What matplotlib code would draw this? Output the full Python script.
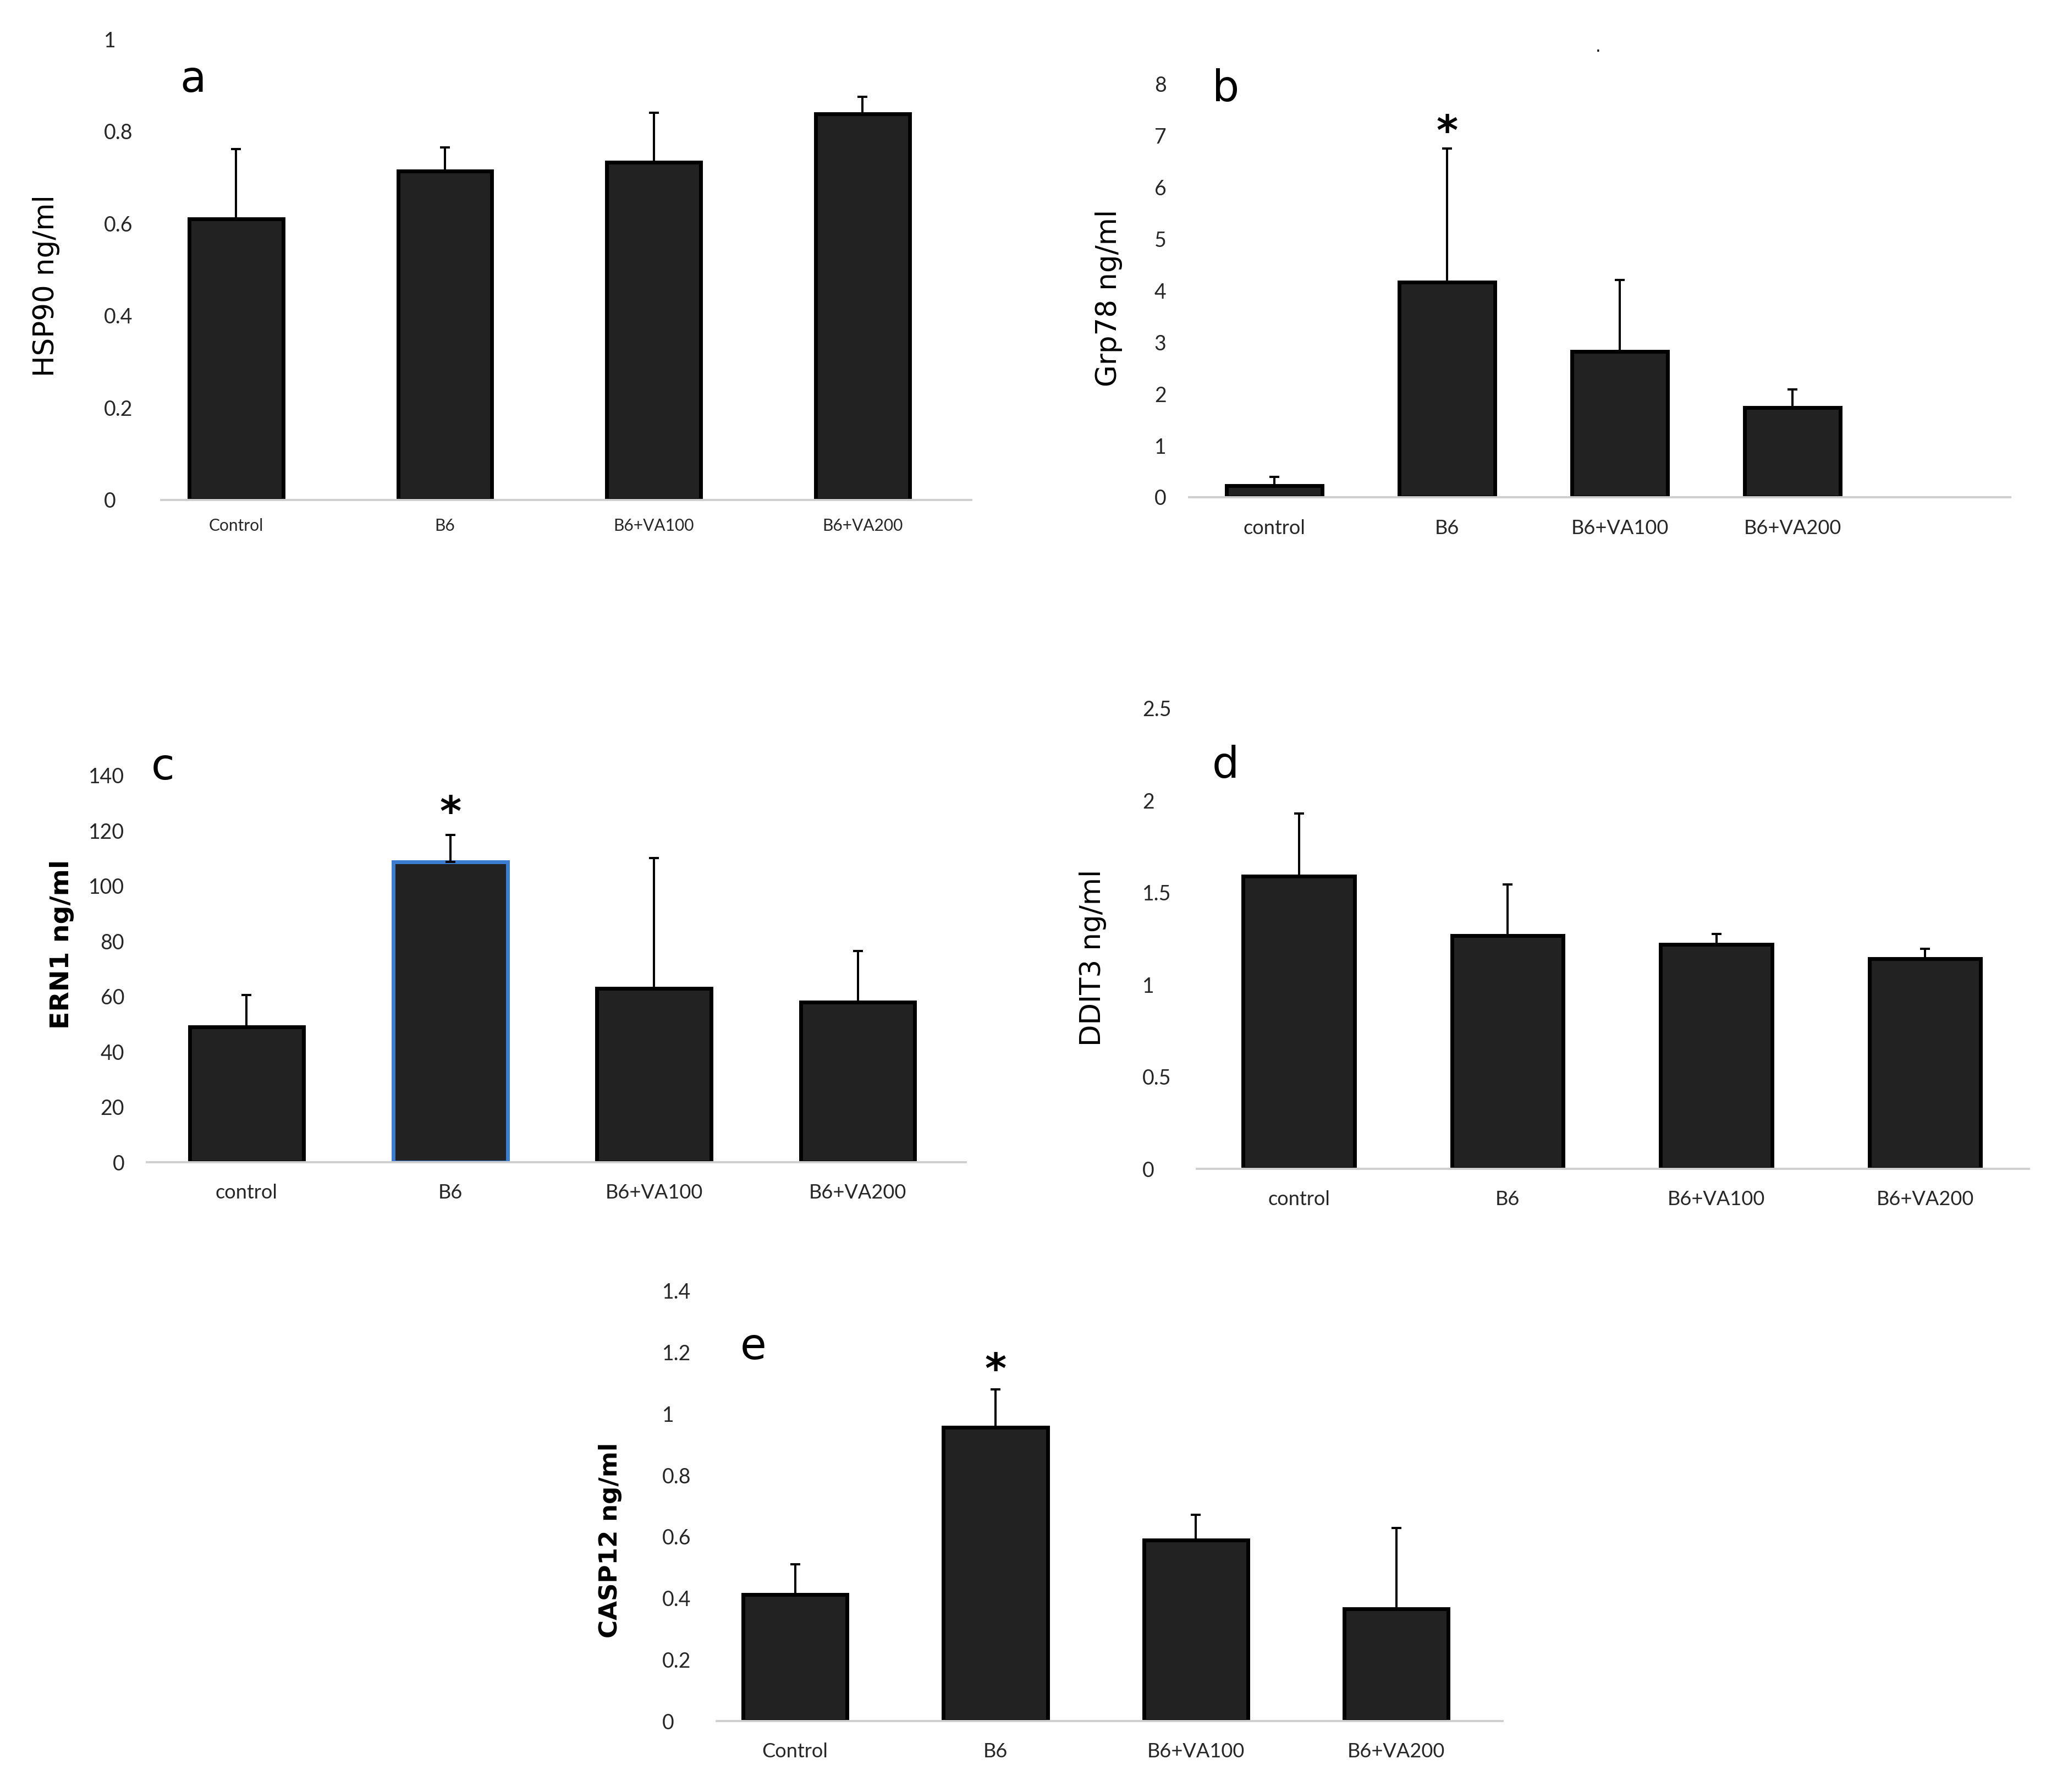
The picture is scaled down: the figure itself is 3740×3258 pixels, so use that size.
import matplotlib
matplotlib.use("Agg")
import matplotlib.pyplot as plt
from matplotlib.ticker import FixedLocator, FuncFormatter

# ---------------- data ----------------
groups_cap = ["Control", "B6", "B6+VA100", "B6+VA200"]
groups_low = ["control", "B6", "B6+VA100", "B6+VA200"]

hsp90_mean = [0.61, 0.714, 0.733, 0.838]
hsp90_err = [0.152, 0.051, 0.107, 0.037]

grp78_mean = [0.22, 4.16, 2.82, 1.73]
grp78_err = [0.17, 2.59, 1.39, 0.36]

ern1_mean = [49.0, 108.6, 62.9, 58.0]
ern1_err = [11.5, 9.9, 47.1, 18.5]

ddit3_mean = [1.59, 1.265, 1.22, 1.14]
ddit3_err = [0.34, 0.28, 0.055, 0.055]

casp12_mean = [0.412, 0.956, 0.589, 0.366]
casp12_err = [0.098, 0.124, 0.082, 0.262]

hsp90_ticks = [0, 0.2, 0.4, 0.6, 0.8, 1]
grp78_ticks = [0, 1, 2, 3, 4, 5, 6, 7, 8]
ern1_ticks = [0, 20, 40, 60, 80, 100, 120, 140]
ddit3_ticks = [0, 0.5, 1, 1.5, 2, 2.5]
casp12_ticks = [0, 0.2, 0.4, 0.6, 0.8, 1, 1.2, 1.4]

# ---------------- layout helpers (reference-display pixel space 1568x1366) ----------------
W, H = 1568.0, 1366.0


def box(x0, x1, ytop, ybot):
    return [x0 / W, 1 - ybot / H, (x1 - x0) / W, (ybot - ytop) / H]


def fx(x):
    return x / W


def fy(y):
    return 1 - y / H


fig = plt.figure(figsize=(37.41, 32.58), dpi=100)
fig.patch.set_facecolor("white")

BAR_FILL = "#222222"
TICK_COLOR = "#262626"


def draw_panel(rect, xlim, ticks, cats, means, errs, width, ylabel, ylab_xy,
               letter, letter_xy, ytick_ha, ytick_pad, xfs, xpad,
               star=None, bold_label=False, ylab_fs=37, edgecolors=None):
    ax = fig.add_axes(rect)
    x = list(range(len(cats)))
    ec = edgecolors if edgecolors is not None else ["black"] * len(cats)
    ax.bar(x, means, width=width, color=BAR_FILL, edgecolor=ec, linewidth=5,
           zorder=2)
    ax.errorbar(x, means, yerr=[[0] * len(errs), errs], fmt="none",
                ecolor="black", elinewidth=2.9, capsize=6.5, capthick=2.9,
                zorder=3)
    ax.set_xlim(*xlim)
    ax.set_ylim(ticks[0], ticks[-1])
    ax.yaxis.set_major_locator(FixedLocator(ticks))
    ax.yaxis.set_major_formatter(FuncFormatter(lambda v, p: "{:g}".format(v)))
    ax.set_xticks(x)
    ax.set_xticklabels(cats, fontsize=xfs, family="Lato", color=TICK_COLOR)
    for s in ["top", "right", "left"]:
        ax.spines[s].set_visible(False)
    ax.spines["bottom"].set_color("#cfcfcf")
    ax.spines["bottom"].set_linewidth(2.8)
    ax.tick_params(axis="x", length=0, pad=xpad)
    ax.tick_params(axis="y", length=0, pad=ytick_pad, labelsize=27,
                   labelcolor=TICK_COLOR)
    for t in ax.get_yticklabels():
        t.set_family("Lato")
        t.set_horizontalalignment(ytick_ha)
    ax.set_ylabel(ylabel, fontsize=ylab_fs, family="DejaVu Sans",
                  fontweight="bold" if bold_label else "normal",
                  color="black", va="center", ha="center")
    ax.yaxis.set_label_coords(fx(ylab_xy[0]), fy(ylab_xy[1]),
                              transform=fig.transFigure)
    fig.text(fx(letter_xy[0]), fy(letter_xy[1]), letter, fontsize=56,
             family="DejaVu Sans", ha="center", va="baseline", color="black")
    if star is not None:
        i, off = star
        ax.annotate("*", xy=(i, means[i] + errs[i]), xytext=(0, off),
                    textcoords="offset points", ha="center", va="center",
                    fontsize=54, fontweight="bold", family="DejaVu Sans",
                    color="black")
    return ax


# panel a
draw_panel(box(123, 740, 30, 381), (-0.358, 3.52), hsp90_ticks, groups_cap,
           hsp90_mean, hsp90_err, 0.45, "HSP90 ng/ml", (35, 218),
           "a", (147, 70), "left", 75, 21.5, 24)

# panel b
draw_panel(box(906, 1532, 64, 379), (-0.494, 4.26), grp78_ticks, groups_low,
           grp78_mean, grp78_err, 0.555, "Grp78 ng/ml", (845, 227),
           "b", (934, 77), "right", 29.5, 26, 29, star=(1, 20))

# panel c
draw_panel(box(112, 736, 591, 886), (-0.489, 3.53), ern1_ticks, groups_low,
           ern1_mean, ern1_err, 0.56, "ERN1 ng/ml", (47, 720),
           "c", (124, 594), "right", 29.5, 26, 28, star=(1, 27),
           bold_label=True, ylab_fs=34,
           edgecolors=["black", "#3b7dd0", "black", "black"])

# panel d
draw_panel(box(912, 1546, 540, 891), (-0.49, 3.497), ddit3_ticks, groups_low,
           ddit3_mean, ddit3_err, 0.534, "DDIT3 ng/ml", (833, 730),
           "d", (934, 593), "left", 71, 26, 28)

# panel e
draw_panel(box(546, 1145, 984, 1312), (-0.392, 3.53), casp12_ticks, groups_cap,
           casp12_mean, casp12_err, 0.52, "CASP12 ng/ml", (465, 1174),
           "e", (574, 1036), "left", 71, 26, 28, star=(1, 23),
           bold_label=True, ylab_fs=32.5)

# small stray dot in the original figure
fig.text(fx(1218), fy(36), ".", fontsize=22, ha="center", va="center",
         color="black")

fig.savefig("out.png", dpi=100, facecolor="white")
